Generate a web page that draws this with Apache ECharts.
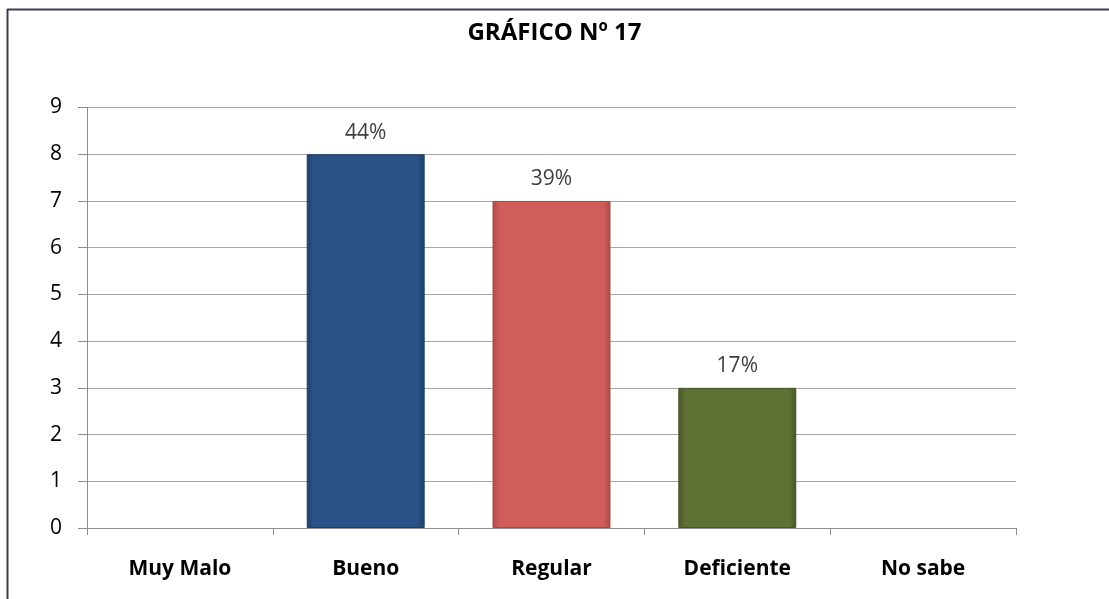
<!DOCTYPE html>
<html><head><meta charset="utf-8">
<script src="https://cdn.jsdelivr.net/npm/echarts@6/dist/echarts.min.js"></script>
<style>html,body{margin:0;padding:0;background:#fff}#c{width:1109px;height:599px}</style>
</head><body><div id="c"></div>
<script>
const categories = ['Muy Malo', 'Bueno', 'Regular', 'Deficiente', 'No sabe'];
const values = [0, 8, 7, 3, 0];
const percentLabels = ['', '44%', '39%', '17%', ''];
const barColors = ['#2a5286', '#2a5286', '#d15d5a', '#5e7132', '#2a5286'];
const barEdge = ['#1f3f6a', '#1f3f6a', '#a94a48', '#46552a', '#1f3f6a'];
const yTicks = [0, 1, 2, 3, 4, 5, 6, 7, 8, 9];

const font = '"Open Sans", Lato, sans-serif';
const chart = echarts.init(document.getElementById('c'));
chart.setOption({
  animation: false,
  backgroundColor: '#fff',
  title: {
    text: 'GRÁFICO Nº 17', left: 'center', top: 16,
    textStyle: {fontFamily: font, fontSize: 24, fontWeight: 'bold', color: '#000'}
  },
  graphic: [
    {type: 'line', silent: true, shape: {x1: 7, y1: 9.5, x2: 1120, y2: 9.5},
     style: {stroke: '#3c3c52', lineWidth: 2}},
    {type: 'line', silent: true, shape: {x1: 7.5, y1: 9, x2: 7.5, y2: 620},
     style: {stroke: '#3c3c52', lineWidth: 2}}
  ],
  grid: {left: 87, right: 93, top: 107.5, bottom: 71, containLabel: false},
  xAxis: {
    type: 'category', data: categories,
    axisLine: {lineStyle: {color: '#8c8c8c'}},
    axisTick: {show: true, length: 7, lineStyle: {color: '#8c8c8c'}},
    axisLabel: {fontFamily: font, fontSize: 21, fontWeight: 'bold', color: '#000', margin: 31}
  },
  yAxis: {
    type: 'value', min: yTicks[0], max: yTicks[yTicks.length - 1], interval: 1,
    axisLine: {show: true, lineStyle: {color: '#8c8c8c'}},
    axisTick: {show: true, length: 9, lineStyle: {color: '#8c8c8c'}},
    axisLabel: {fontFamily: font, fontSize: 21, color: '#000', margin: 25},
    splitLine: {lineStyle: {color: '#a6a6a6'}}
  },
  series: [{
    type: 'bar', barWidth: '63.5%',
    data: values.map((v, i) => ({
      value: v,
      itemStyle: v > 0 ? {
        color: {type: 'linear', x: 0, y: 0, x2: 1, y2: 0, colorStops: [
          {offset: 0, color: barEdge[i]}, {offset: 0.06, color: barColors[i]},
          {offset: 0.94, color: barColors[i]}, {offset: 1, color: barEdge[i]}]},
        borderColor: barEdge[i], borderWidth: 1
      } : {opacity: 0},
      label: {show: v > 0, formatter: percentLabels[i]}
    })),
    label: {position: 'top', distance: 11, fontFamily: font, fontSize: 21, color: '#404040'}
  }]
});
</script></body></html>
